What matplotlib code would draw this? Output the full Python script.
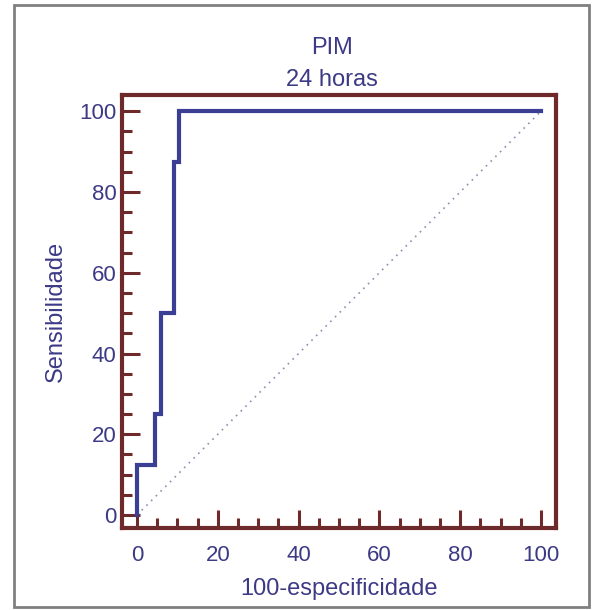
import matplotlib
matplotlib.use("Agg")
import matplotlib.pyplot as plt
from matplotlib.patches import Rectangle
from matplotlib.ticker import MultipleLocator

# ROC curve steps (100-specificity, sensitivity)
fpr = [0, 0, 4.5, 4.5, 6, 6, 9.2, 9.2, 10.5, 10.5, 100]
tpr = [0, 12.5, 12.5, 25, 25, 50, 50, 87.5, 87.5, 100, 100]
diag_x = [0, 100]
diag_y = [0, 100]
ticks = [0, 20, 40, 60, 80, 100]

line_col = "#3a3f94"
spine_col = "#6e2a2a"
text_col = "#3c3a85"

plt.rcParams['font.family'] = ['Liberation Sans', 'DejaVu Sans']

fig = plt.figure(figsize=(6, 6.1), dpi=100)
fig.patches.append(Rectangle((14/600, 1 - 607/610), 575/600, 602/610,
                             transform=fig.transFigure, fill=False,
                             edgecolor="#808080", linewidth=2))

ax = fig.add_axes([122/600, 1 - 528/610, 434/600, 433/610])
ax.plot(diag_x, diag_y, linestyle=(0, (1, 3)), color="#8a90b0", linewidth=1.2)
ax.plot(fpr, tpr, color=line_col, linewidth=3, solid_joinstyle='miter')

ax.set_xlim(-3.7, 103.7)
ax.set_ylim(-3.2, 104)
ax.set_xticks(ticks)
ax.set_yticks(ticks)
ax.xaxis.set_minor_locator(MultipleLocator(5))
ax.yaxis.set_minor_locator(MultipleLocator(5))
ax.tick_params(axis='both', which='major', direction='in', length=13, width=2.2,
               color=spine_col, labelsize=16, labelcolor=text_col)
ax.tick_params(axis='both', which='minor', direction='in', length=7, width=2.2,
               color=spine_col)
ax.tick_params(axis='x', which='major', pad=12)
ax.tick_params(axis='y', which='major', pad=4)
ax.tick_params(top=False, right=False, which='both')

for s in ax.spines.values():
    s.set_color(spine_col)
    s.set_linewidth(3)

ax.set_xlabel("100-especificidade", fontsize=17, color=text_col, labelpad=9)
ax.set_ylabel("Sensibilidade", fontsize=17, color=text_col, labelpad=9)

fig.text(332/600, 1 - 48/610, "PIM", ha='center', va='center', fontsize=17, color=text_col)
fig.text(332/600, 1 - 80/610, "24 horas", ha='center', va='center', fontsize=17, color=text_col)

fig.savefig("out.png", dpi=100)
